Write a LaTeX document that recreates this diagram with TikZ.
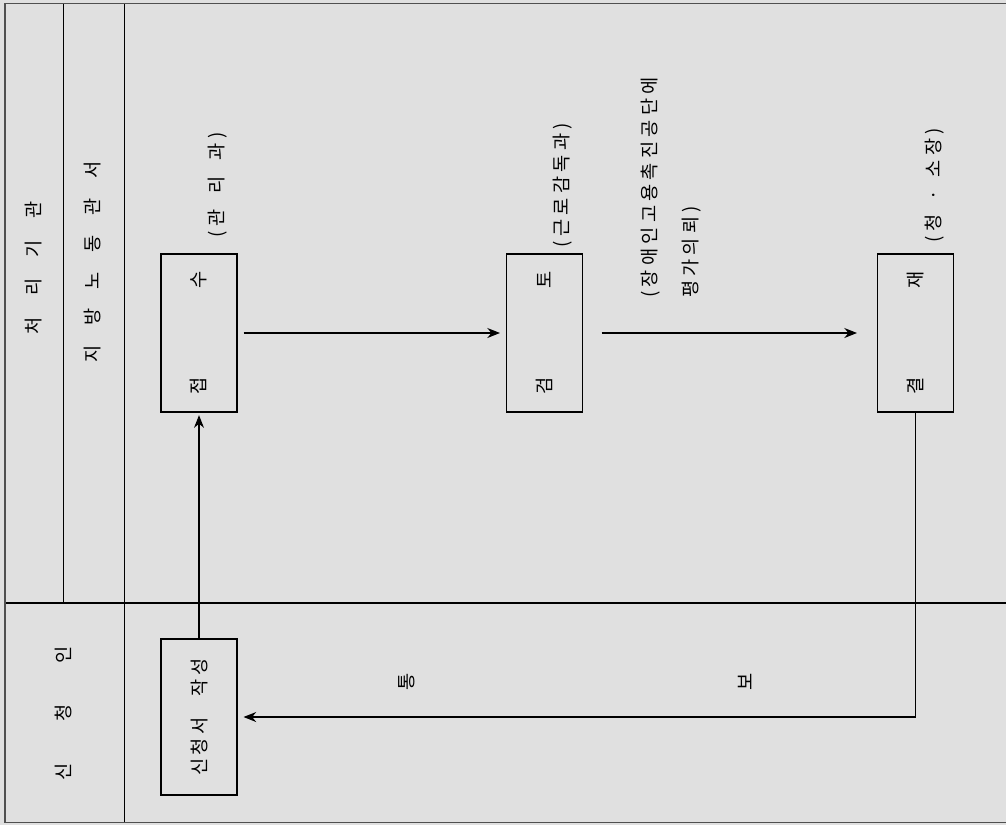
\documentclass[tikz,border=0pt]{standalone}
\usepackage{fontspec}
\newfontfamily\kr{Noto Sans CJK KR}
\newfontfamily\krs[LetterSpace=23]{Noto Sans CJK KR}
\usetikzlibrary{arrows.meta}
\definecolor{bg}{HTML}{E0E0E0}
\definecolor{frame}{HTML}{505050}
\begin{document}
\begin{tikzpicture}[x=0.75pt,y=-0.75pt,
  txt/.style={rotate=90,inner sep=0pt,font=\kr\fontsize{14}{17}\selectfont},
  lbl/.style={rotate=90,inner sep=0pt,font=\krs\fontsize{14}{17}\selectfont},
  box/.style={draw=black,line width=0.8pt,rotate=90,minimum width=118.5pt,minimum height=57pt,inner sep=0pt,font=\kr\fontsize{14}{17}\selectfont},
  conn/.style={line width=0.8pt,-{Stealth[length=9.5pt,width=7.5pt]}},
  grid/.style={line width=0.8pt,draw=black},
  border/.style={line width=1.3pt,draw=frame}]
\useasboundingbox (0,0) rectangle (1006,825);
\fill[bg] (0,0) rectangle (1006,825);
% lane lines
\draw[grid] (63.5,3.5) -- (63.5,603);
\draw[grid] (124.5,3.5) -- (124.5,822.5);
\draw[grid] (5,603) -- (1006,603);
\draw[border] (1006,3.5) -- (5,3.5) -- (5,822.5) -- (1006,822.5);
% lane titles
\node[txt] (cheori) at (34,268) {처\hspace{16pt}리\hspace{16pt}기\hspace{16pt}관};
\node[txt] (jibang) at (93,262) {지\hspace{14.8pt}방\hspace{14.8pt}노\hspace{14.8pt}동\hspace{14.8pt}관\hspace{14.8pt}서};
\node[txt] (sincheongin) at (63,713) {신\hspace{31pt}청\hspace{31pt}인};
% boxes
\node[box] (jeobsu) at (199,333) {접\hspace{67pt}수};
\node[box] (geomto) at (544.5,333) {검\hspace{67pt}토};
\node[box] (gyeoljae) at (915.5,333) {결\hspace{67pt}재};
\node[box,minimum width=117pt] (sinbox) at (199,717) {신\hspace{2.5pt}청\hspace{2.5pt}서\hspace{16pt}작\hspace{2.5pt}성};
% labels
\node[lbl] (l1) at (218,185) {(관\hspace{12pt}리\hspace{12pt}과)};
\node[lbl] (l2) at (563,185) {(근로감독과)};
\node[lbl,align=left] (l3) at (671,187.5) {(장애인고용촉진공단에\\[14pt]평가의뢰)};
\node[lbl] (l4) at (935,185) {(청\hspace{10pt}·\hspace{10pt}소장)};
\node[txt] (tong) at (407,682) {통};
\node[txt] (bo) at (745,682) {보};
% connectors
\draw[conn,shorten <=4.5pt,shorten >=4.5pt] (jeobsu.south) -- (geomto.north);
\draw[conn,shorten <=14pt,shorten >=15pt] (geomto.south) -- (gyeoljae.north);
\draw[conn,shorten >=2pt] (sinbox.east) -- (jeobsu.west);
\draw[conn,shorten >=4.5pt] (gyeoljae.west) |- (sinbox.south);
\end{tikzpicture}
\end{document}
